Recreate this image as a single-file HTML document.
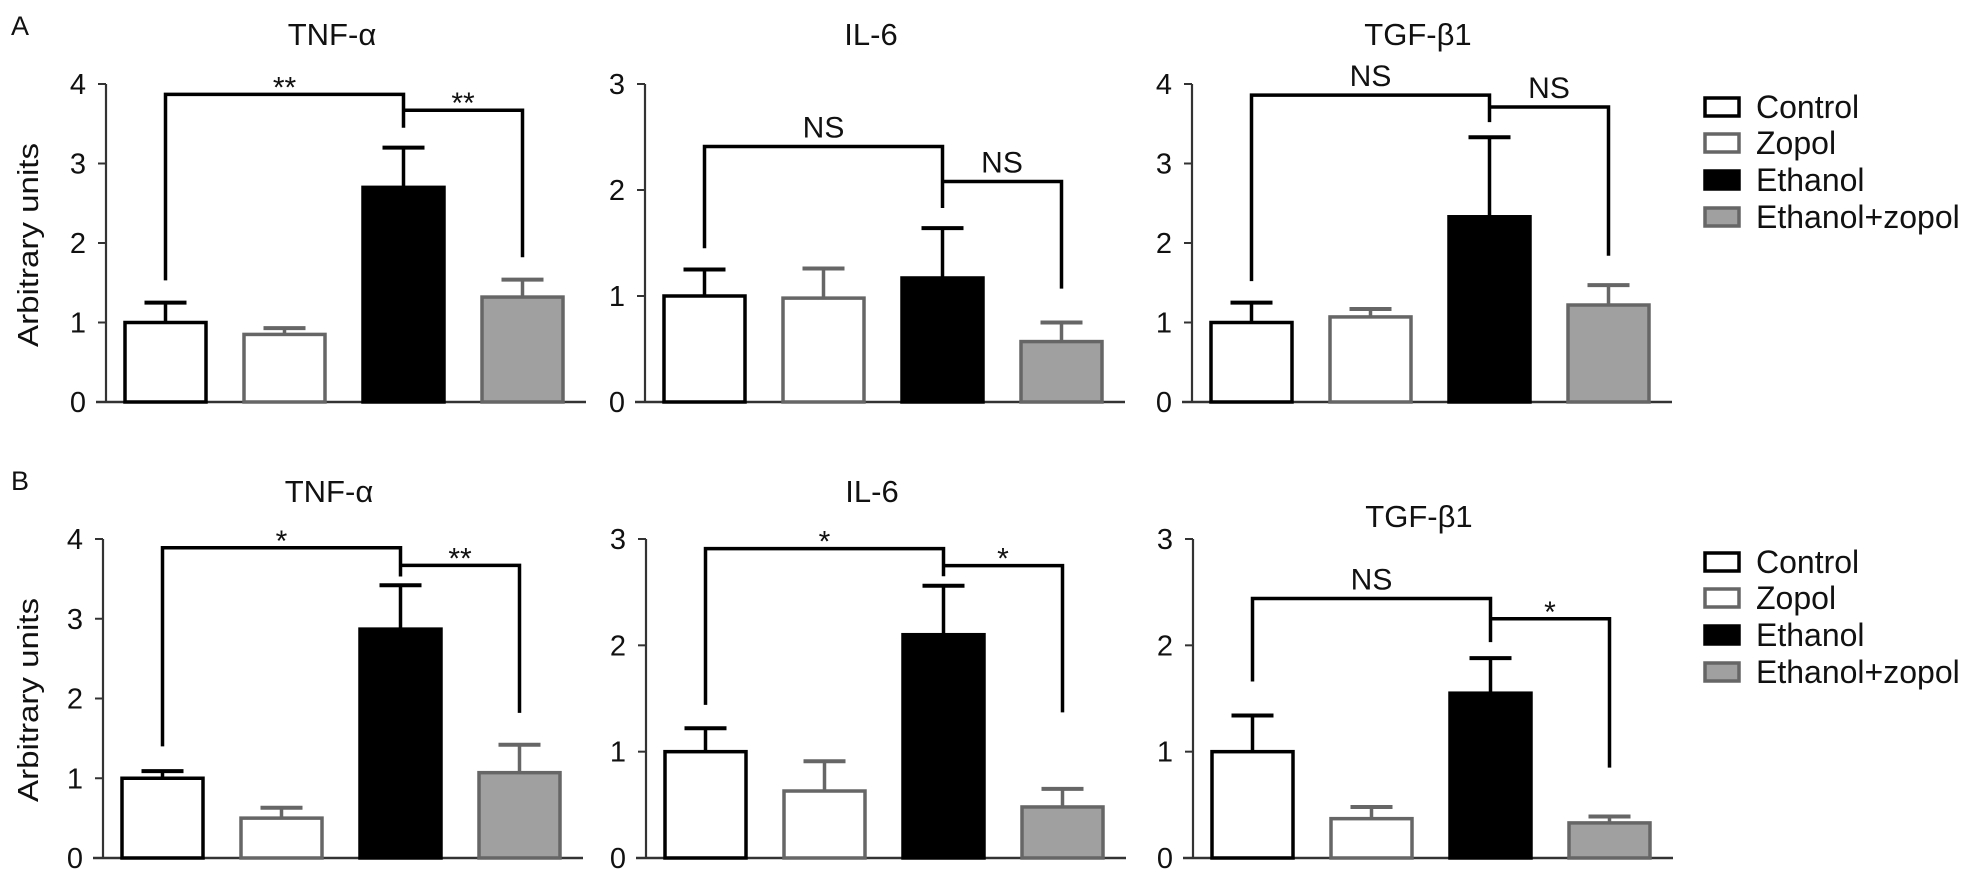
<!DOCTYPE html>
<html><head><meta charset="utf-8"><style>
html,body{margin:0;padding:0;background:#fff;}
svg{display:block;font-family:"Liberation Sans",Arial,sans-serif;}
</style></head><body>
<svg id="fig" width="1985" height="888" viewBox="0 0 1985 888" xmlns="http://www.w3.org/2000/svg"></svg>
<script>
// ---- data ----
const groups = ["Control","Zopol","Ethanol","Ethanol+zopol"];
const panelTitles = ["TNF-α","IL-6","TGF-β1","TNF-α","IL-6","TGF-β1"];
const yMaxes = [4,3,4,4,3,3];
const tickLabelsA = [["0","1","2","3","4"],["0","1","2","3"],["0","1","2","3","4"]];
const tickLabelsB = [["0","1","2","3","4"],["0","1","2","3"],["0","1","2","3"]];
const meansA1 = [1.0,0.85,2.7,1.32];   const errA1 = [0.25,0.08,0.5,0.22];
const meansA2 = [1.0,0.98,1.17,0.57];  const errA2 = [0.25,0.28,0.47,0.18];
const meansA3 = [1.0,1.07,2.33,1.22];  const errA3 = [0.25,0.1,1.0,0.25];
const meansB1 = [1.0,0.5,2.87,1.07];   const errB1 = [0.09,0.13,0.55,0.35];
const meansB2 = [1.0,0.63,2.1,0.48];   const errB2 = [0.22,0.28,0.46,0.17];
const meansB3 = [1.0,0.37,1.55,0.33];  const errB3 = [0.34,0.11,0.33,0.06];
// bracket levels in data units: [h1, h2, leftEnd, midEnd, rightEnd]
const bracketA1 = [3.87,3.67,1.53,3.45,1.82]; const sigA1 = ["**","**"];
const bracketA2 = [2.41,2.08,1.45,1.83,1.07]; const sigA2 = ["NS","NS"];
const bracketA3 = [3.86,3.71,1.52,3.52,1.84]; const sigA3 = ["NS","NS"];
const bracketB1 = [3.89,3.67,1.40,3.53,1.82]; const sigB1 = ["*","**"];
const bracketB2 = [2.91,2.75,1.44,2.65,1.37]; const sigB2 = ["*","*"];
const bracketB3 = [2.44,2.25,1.66,2.03,0.85]; const sigB3 = ["NS","*"];

const NS="http://www.w3.org/2000/svg";
const svg=document.getElementById('fig');
function mk(tag,attrs,parent){const e=document.createElementNS(NS,tag);for(const k in attrs)e.setAttribute(k,attrs[k]);(parent||svg).appendChild(e);return e;}
function txt(s,attrs,parent){const e=mk('text',attrs,parent);e.textContent=s;return e;}

const fills=["#fff","#fff","#000","#a0a0a0"];
const strokes=["#000","#666","#000","#666"];

const panels=[
 {ax:106,top:84,zero:402,means:meansA1,err:errA1,br:bracketA1,sig:sigA1,ticks:tickLabelsA[0],titleY:45},
 {ax:645,top:84,zero:402,means:meansA2,err:errA2,br:bracketA2,sig:sigA2,ticks:tickLabelsA[1],titleY:45},
 {ax:1192,top:84,zero:402,means:meansA3,err:errA3,br:bracketA3,sig:sigA3,ticks:tickLabelsA[2],titleY:45},
 {ax:103,top:539,zero:858,means:meansB1,err:errB1,br:bracketB1,sig:sigB1,ticks:tickLabelsB[0],titleY:502},
 {ax:646,top:539,zero:858,means:meansB2,err:errB2,br:bracketB2,sig:sigB2,ticks:tickLabelsB[1],titleY:502},
 {ax:1193,top:539,zero:858,means:meansB3,err:errB3,br:bracketB3,sig:sigB3,ticks:tickLabelsB[2],titleY:527}
];

panels.forEach((p,pi)=>{
  const g=mk('g',{});
  
  
  const ymax=yMaxes[pi];
  const y=v=>p.zero-(v/ymax)*(p.zero-p.top);
  const bx=i=>p.ax+19+i*119; const bw=81; const cx=i=>bx(i)+bw/2;
  const t=txt(panelTitles[pi],{x:p.ax+226,y:p.titleY,'font-size':31,'text-anchor':'middle',fill:'#111'},g);
  
  
  const ya=mk('line',{x1:p.ax,y1:p.top,x2:p.ax,y2:p.zero,stroke:'#333','stroke-width':2.2},g);
  
  
  const xa=mk('line',{x1:p.ax-10,y1:p.zero,x2:p.ax+480,y2:p.zero,stroke:'#333','stroke-width':2.5},g);
  
  
  p.ticks.forEach((lab,k)=>{
    const ty=y(+lab);
    mk('line',{x1:p.ax-8,y1:ty,x2:p.ax,y2:ty,stroke:'#333','stroke-width':2},g);
    const tl=txt(lab,{x:p.ax-20,y:ty+10,'font-size':29,'text-anchor':'end',fill:'#111'},g);
    
    
  });
  p.means.forEach((m,i)=>{
    const top=y(m+p.err[i]);
    mk('line',{x1:cx(i),y1:y(m),x2:cx(i),y2:top,stroke:strokes[i],'stroke-width':3.5},g);
    mk('line',{x1:cx(i)-21,y1:top,x2:cx(i)+21,y2:top,stroke:strokes[i],'stroke-width':4},g);
    const r=mk('rect',{x:bx(i),y:y(m),width:bw,height:p.zero-y(m),fill:fills[i],stroke:strokes[i],'stroke-width':3.5},g);
    
    
  });
  const b=p.br;
  const l=cx(0),mx=cx(2),rx=cx(3);
  const path=`M${l},${y(b[2])} V${y(b[0])} H${mx} V${y(b[3])} M${mx},${y(b[1])} H${rx} V${y(b[4])}`;
  const br=mk('path',{d:path,fill:'none',stroke:'#000','stroke-width':3.5},g);
  
  
  [[ (l+mx)/2, y(b[0]) ],[ (mx+rx)/2, y(b[1]) ]].forEach((pt,k)=>{
    const s=p.sig[k]; const isNS=s==='NS';
    const st=txt(s,{x:pt[0],y:isNS?pt[1]-9:pt[1]+3,'font-size':isNS?30:30,'text-anchor':'middle',fill:'#111'},g);
    
    
  });
});

[["A",35],["B",490]].forEach(([s,yy])=>{
  const e=txt(s,{x:11,y:yy,'font-size':27,fill:'#111'});
  
  
});
[245,700].forEach(cy=>{
  const e=txt("Arbitrary units",{x:0,y:0,'font-size':29,'text-anchor':'middle',fill:'#111',textLength:204,lengthAdjust:'spacingAndGlyphs',transform:`translate(38,${cy}) rotate(-90)`});
  
  
});

[107,562].forEach(y0=>{
  const lg=mk('g',{});
  
  
  const rows=[0,36,73,110];
  groups.forEach((gname,i)=>{
    const ry=y0+rows[i];
    mk('rect',{x:1705,y:ry-9,width:34,height:18,fill:fills[i],stroke:strokes[i],'stroke-width':3.5},lg);
    const e=txt(gname,{x:1756,y:ry+11,'font-size':32,fill:'#111'},lg);
    
    
  });
});
</script>
</body></html>
